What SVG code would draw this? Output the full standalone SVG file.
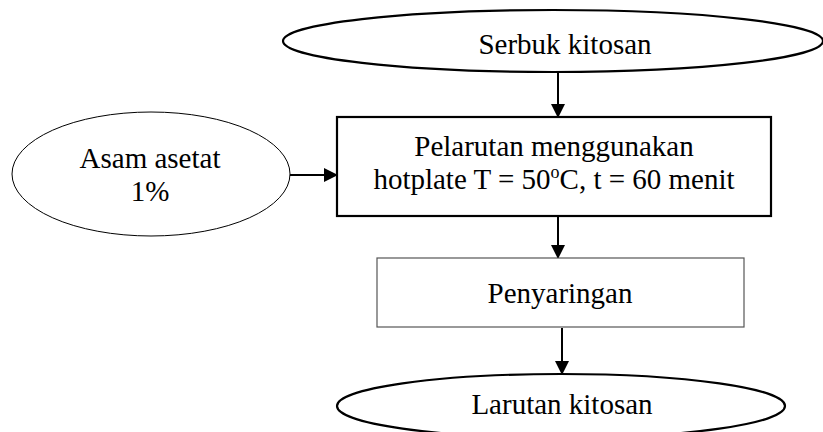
<svg xmlns="http://www.w3.org/2000/svg" width="823" height="432" viewBox="0 0 823 432">
<style>
text{font-family:"Liberation Serif","Times New Roman",serif;font-size:29px;fill:#000;text-anchor:middle}
.thick{fill:#fff;stroke:#000;stroke-width:2.2}
.thin{fill:#fff;stroke:#000;stroke-width:1}
.gray{fill:#fff;stroke:#555;stroke-width:1.2}
.conn{stroke:#000;stroke-width:2;fill:none}
</style>
<defs>
<marker id="ah" markerUnits="userSpaceOnUse" markerWidth="14" markerHeight="14" refX="13" refY="7" orient="auto">
<path d="M0,0 L14,7 L0,14 Z" fill="#000"/>
</marker>
</defs>
<rect width="823" height="432" fill="#fff"/>
<g id="connectors">
<line class="conn" x1="558" y1="72" x2="558" y2="117" marker-end="url(#ah)"/>
<line class="conn" x1="290" y1="175" x2="337" y2="175" marker-end="url(#ah)"/>
<line class="conn" x1="558" y1="217" x2="558" y2="258" marker-end="url(#ah)"/>
<line class="conn" x1="562" y1="328" x2="562" y2="374" marker-end="url(#ah)"/>
</g>
<g id="serbuk">
<ellipse class="thick" cx="553" cy="41" rx="270" ry="31"/>
<text x="565" y="54">Serbuk kitosan</text>
</g>
<g id="asam">
<ellipse class="thin" cx="151" cy="174" rx="139" ry="62"/>
<text x="150" y="168">Asam asetat</text>
<text x="150" y="201">1%</text>
</g>
<g id="pelarutan">
<rect class="thick" x="337" y="117" width="434" height="99"/>
<text x="554" y="156">Pelarutan menggunakan</text>
<text x="554" y="189">hotplate T = 50<tspan font-size="18" dy="-11">o</tspan><tspan dy="11">C, t = 60 menit</tspan></text>
</g>
<g id="penyaringan">
<rect class="gray" x="377" y="258" width="367" height="69"/>
<text x="560" y="303">Penyaringan</text>
</g>
<g id="larutan">
<ellipse class="thick" cx="561" cy="406" rx="224" ry="32"/>
<text x="562" y="414">Larutan kitosan</text>
</g>
</svg>
